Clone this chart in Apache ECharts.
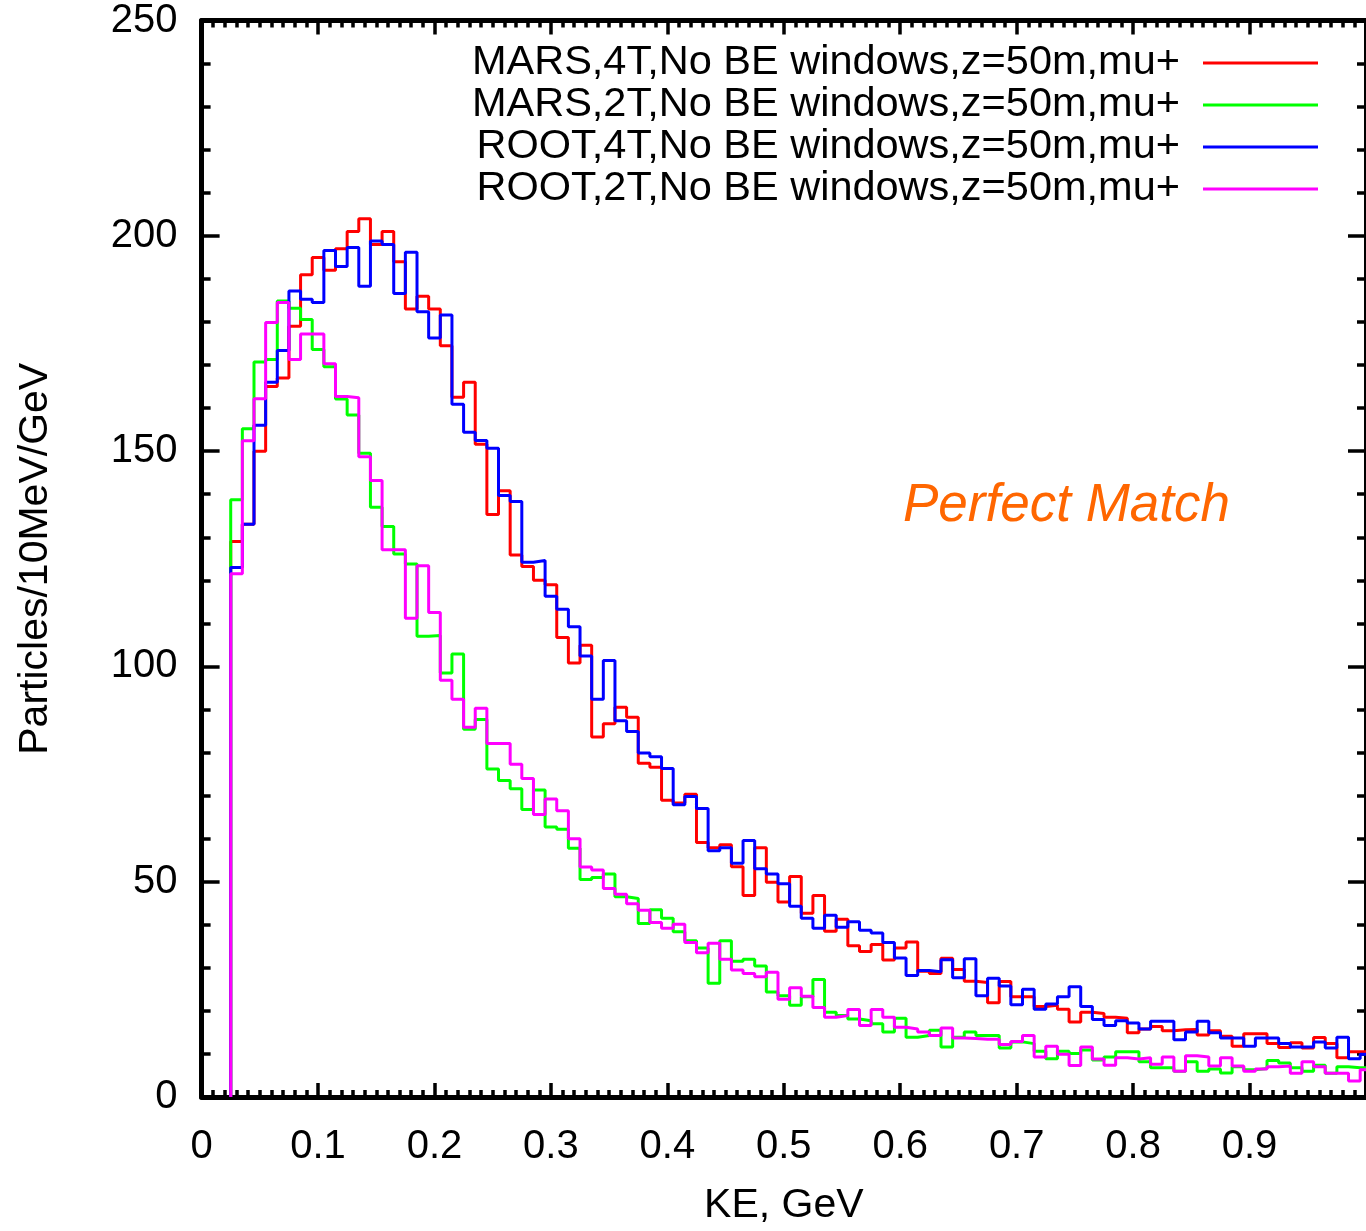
<!DOCTYPE html>
<html>
<head>
<meta charset="utf-8">
<script src="https://cdn.jsdelivr.net/npm/echarts@6/dist/echarts.min.js"></script>
<style>
html,body{margin:0;padding:0;background:#ffffff;}
#chart{width:1366px;height:1231px;}
</style>
</head>
<body>
<div id="chart"></div>
<script>
// Histogram bins: 10 MeV wide, first bin centred at 0.03 GeV
const BIN_FIRST = 0.03;
const BIN_WIDTH = 0.01;

// Particles/10MeV/GeV, one value per bin (0.03 ... 1.00 GeV)
const mars4T = [129,133,150,165,167,179,191,195,192,197,201,204,198,201,194,183,186,183,174.5,162.5,
  166,151.6,135.3,140.8,125.9,123.2,120,119,106.7,100.8,104.9,83.6,86.7,90.5,88.2,77.5,76.6,68.9,68.3,70.3,
  59.1,57.9,58.6,53.5,46.8,57.9,49.9,45.3,51.2,42.7,46.8,38.5,41.3,35.1,33.8,35.4,31.8,34.6,36,29.2,
  28.7,32.2,29.6,26.9,26.6,21.9,26.8,23.3,23.3,21,21.3,20.4,17.4,19.7,19.4,18.5,18.3,14.9,15.8,16.4,
  15.4,15.6,15.7,14.4,15.4,14.1,11.8,14.7,14.7,12.4,11.5,12.6,11.4,13.8,12.4,9.1,10.5,10.5];

const mars2T = [138.7,155.2,170.7,171.3,184.9,183.2,180.6,173.6,169.6,162.1,158.4,149.5,137,132.5,126.1,123.8,107,107.2,98.5,102.9,
  85.4,87.7,76.2,73.5,71.6,66.8,71.3,62.7,62.2,57.8,50.5,51,51.8,46.5,46.1,40.3,43.5,41.5,38.4,36.3,
  34.6,26.4,36.3,31.5,32,30.4,24.4,23.5,21.3,23.3,27.3,19.7,18.9,18.1,17.7,17,15.1,18.3,13.9,14.3,
  15.5,11.6,13.9,15.1,14.3,14.3,11.4,12.8,12.4,10.6,8.9,10.6,10.1,10.9,8.6,9.3,10.5,10.5,8.2,6.8,
  6.8,6.0,8.2,6,6.5,5.6,7,6.3,6.6,8.5,7.9,6.8,6,7.4,5.5,7,6.8,6.8];

const root4T = [123,133,156,166,173.4,187.2,185.3,184.5,196.6,192.9,197.3,188.3,198.8,198,186.6,196.2,182.4,176.3,181.6,160.9,
  154.4,152.5,150.7,139.7,138.3,124.2,124.6,116.3,113.3,109.2,102.4,92.4,101.4,87.4,84.9,79.9,79,76.3,67.9,69.8,
  67,57.2,57.9,54.3,59.6,53,51.8,49.5,44.3,41.5,39.2,42.2,39.4,40.7,38.7,38.1,35.9,32.3,28.2,29.4,
  29.1,31.9,27.7,32.1,23.5,27.6,25.8,21.4,25,20.4,21.6,23.3,25.6,21,18,16.6,17.7,17.2,15.8,17.6,
  17.6,13.3,15.1,17.6,14.9,13.7,13.7,11.8,13.7,13.7,12.4,11.6,11.6,12.8,11.4,13.9,8.9,9.9];

const root2T = [121.5,152.4,162.2,179.9,184.5,171.3,177.2,177.2,170.3,162.7,162.4,148.7,143.2,127.1,127.1,111.2,123.4,112.5,96.8,92.4,
  85.9,90.3,82.1,82.1,77.3,74,65.6,69.2,66.5,60,53.4,52.7,48.4,47.1,44.9,43.4,40.5,39.2,40.1,35.9,
  33.5,35.7,32,29.5,28.7,27.9,29,22.7,25.4,23.4,20.8,18.5,18.9,20.3,16.6,20.3,18.5,16.2,15.8,15.1,
  14.3,16,13.7,13.6,13.4,13.4,12.2,12.9,14.3,9.3,11.8,9.9,7.3,11.6,8.8,7.4,9.1,8.8,9.1,7.6,
  9.3,6,9.6,9.3,7.2,9.1,7.2,6,6.5,7,7.2,5.5,8.2,7,5.5,5.5,3.7,6.3];

const seriesNames = [
  'MARS,4T,No BE windows,z=50m,mu+',
  'MARS,2T,No BE windows,z=50m,mu+',
  'ROOT,4T,No BE windows,z=50m,mu+',
  'ROOT,2T,No BE windows,z=50m,mu+'
];
const seriesValues = [mars4T, mars2T, root4T, root2T];
const seriesColors = ['#ff0000', '#00ff00', '#0000ff', '#ff00ff'];

const xTickLabels = ['0','0.1','0.2','0.3','0.4','0.5','0.6','0.7','0.8','0.9'];
const yTickLabels = ['0','50','100','150','200','250'];
const annotationText = 'Perfect Match';

// histogram outline (gnuplot "histeps" style) built from the bin values
function stepPoints(vals) {
  const pts = [[BIN_FIRST - BIN_WIDTH / 2, 0]];
  vals.forEach(function (v, i) {
    const c = BIN_FIRST + i * BIN_WIDTH;
    pts.push([c - BIN_WIDTH / 2, v], [c + BIN_WIDTH / 2, v]);
  });
  return pts;
}

const FONT = '"Liberation Sans", Arial, Helvetica, sans-serif';
const axisLineStyle = { color: '#000', width: 5 };

function makeX(pos, showLabels) {
  return {
    type: 'value', position: pos, min: 0, max: 1.0, interval: 0.1,
    axisLine: { show: true, onZero: false, lineStyle: axisLineStyle },
    axisTick: { show: true, inside: true, length: 14, lineStyle: { color: '#000', width: 3.5 } },
    minorTick: { show: true, splitNumber: 10, length: 7, lineStyle: { color: '#000', width: 3.5 } },
    splitLine: { show: false },
    axisLabel: {
      show: showLabels, fontSize: 40, color: '#000', fontFamily: FONT, margin: 30,
      showMaxLabel: false,
      formatter: function (v) { const k = Math.round(v * 10); return xTickLabels[k] !== undefined ? xTickLabels[k] : ''; }
    },
    name: showLabels ? 'KE, GeV' : '',
    nameLocation: 'middle', nameGap: 88,
    nameTextStyle: { fontSize: 41, color: '#000', fontFamily: FONT }
  };
}
function makeY(pos, showLabels) {
  return {
    type: 'value', position: pos, min: 0, max: 250, interval: 50,
    axisLine: { show: true, onZero: false, lineStyle: axisLineStyle },
    axisTick: { show: true, inside: true, length: 18, lineStyle: { color: '#000', width: 3.5 } },
    minorTick: { show: true, splitNumber: 5, length: 9, lineStyle: { color: '#000', width: 3.5 } },
    splitLine: { show: false },
    axisLabel: {
      show: showLabels, fontSize: 40, color: '#000', fontFamily: FONT, margin: 24,
      formatter: function (v) { const k = Math.round(v / 50); return yTickLabels[k] !== undefined ? yTickLabels[k] : ''; }
    },
    name: showLabels ? 'Particles/10MeV/GeV' : '',
    nameLocation: 'middle', nameGap: 145, nameRotate: 90,
    nameTextStyle: { fontSize: 41, color: '#000', fontFamily: FONT }
  };
}

const chart = echarts.init(document.getElementById('chart'), null, { renderer: 'canvas' });
chart.setOption({
  animation: false,
  backgroundColor: '#ffffff',
  grid: { left: 201.6, right: -2.6, top: 20.6, bottom: 122.1, containLabel: false },
  xAxis: [makeX('bottom', true), makeX('top', false)],
  yAxis: [makeY('left', true), makeY('right', false)],
  legend: {
    orient: 'vertical', right: 43, top: 37, align: 'right',
    itemWidth: 115, itemHeight: 3, itemGap: 0, icon: 'rect',
    textStyle: { fontSize: 41.5, lineHeight: 41, color: '#000', fontFamily: FONT, padding: [0, 18, 0, 0] },
    data: seriesNames
  },
  graphic: [{
    type: 'text', left: 903, top: 480,
    style: { text: annotationText, fill: '#ff6600', font: 'italic 53px ' + FONT }
  }],
  series: seriesValues.map(function (vals, i) {
    return {
      name: seriesNames[i], type: 'line', xAxisIndex: 0, yAxisIndex: 0,
      data: stepPoints(vals), showSymbol: false, symbol: 'none', clip: true,
      lineStyle: { color: seriesColors[i], width: 3 },
      itemStyle: { color: seriesColors[i] },
      z: 2 + i
    };
  })
});
</script>
</body>
</html>
